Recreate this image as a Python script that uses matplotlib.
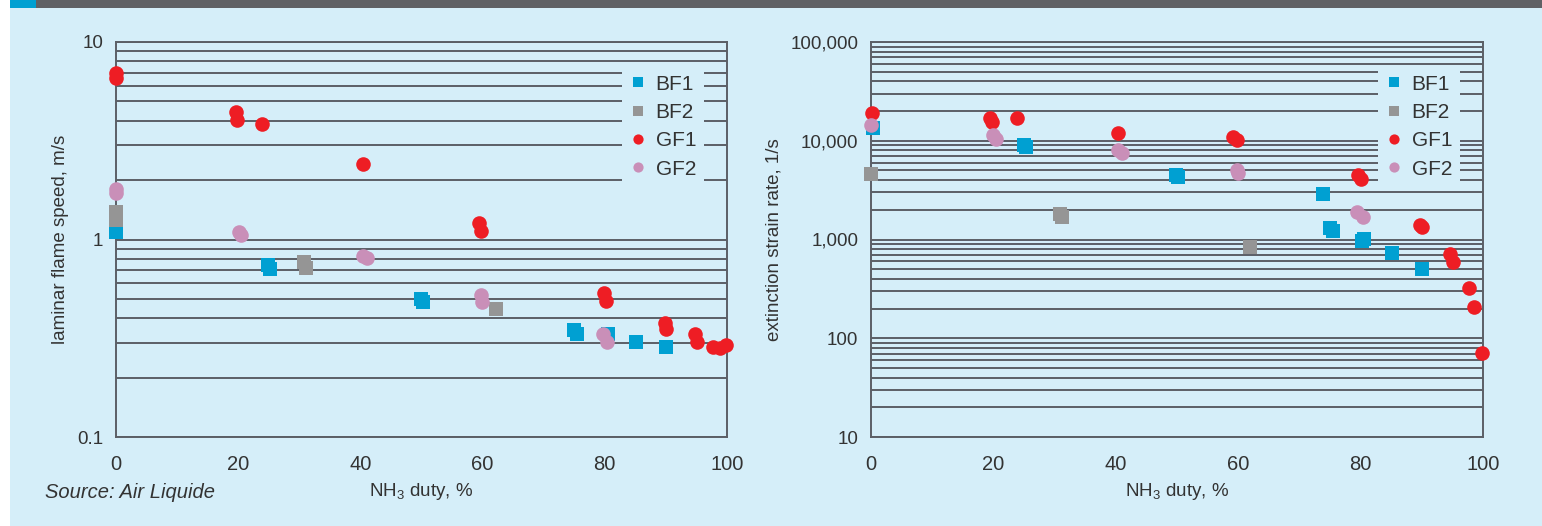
import matplotlib
matplotlib.use('Agg')
import matplotlib.pyplot as plt
from matplotlib.patches import Rectangle

# цвета как на картинке
BG = '#D5EEF9'
GRID = '#5b5f66'
TXT = '#333333'
COLORS = {'BF1': '#00A0D2', 'BF2': '#959595', 'GF1': '#EE1D24', 'GF2': '#C98FB8'}
MARKERS = {'BF1': 's', 'BF2': 's', 'GF1': 'o', 'GF2': 'o'}

NARROW = ['Liberation Sans Narrow', 'Liberation Sans', 'DejaVu Sans']
NORMAL = ['Liberation Sans', 'DejaVu Sans']

plt.rcParams['mathtext.fontset'] = 'custom'
plt.rcParams['mathtext.rm'] = 'Liberation Sans'
plt.rcParams['mathtext.it'] = 'Liberation Sans:italic'

# --- ламинарная скорость пламени, m/s ---
speed_bf1_x = [0, 24.9, 25.2, 49.9, 50.2, 75.0, 75.4, 80.5, 85.1, 90.0]
speed_bf1_y = [1.09, 0.74, 0.71, 0.50, 0.48, 0.348, 0.332, 0.332, 0.303, 0.286]
speed_bf2_x = [0, 0, 30.8, 31.1, 62.2]
speed_bf2_y = [1.38, 1.25, 0.77, 0.72, 0.445]
speed_gf1_x = [0, 0, 19.6, 19.8, 23.9, 40.4, 59.4, 59.7, 79.9, 80.2, 89.9, 90.0,
               94.8, 95.1, 97.7, 98.9, 99.8]
speed_gf1_y = [7.0, 6.6, 4.42, 4.03, 3.84, 2.41, 1.21, 1.10, 0.536, 0.489, 0.378, 0.352,
               0.332, 0.303, 0.286, 0.283, 0.292]
speed_gf2_x = [0, 0, 20.1, 20.4, 40.4, 41.0, 59.7, 59.9, 79.7, 80.4]
speed_gf2_y = [1.80, 1.72, 1.09, 1.05, 0.825, 0.81, 0.524, 0.483, 0.332, 0.303]

# --- скорость деформации при погасании, 1/s ---
strain_bf1_x = [0.3, 25.0, 25.3, 49.8, 50.1, 73.9, 75.0, 75.5, 80.2, 80.6, 85.1, 90.0]
strain_bf1_y = [13500, 9100, 8700, 4500, 4300, 2890, 1300, 1220, 966, 1010, 730, 502]
strain_bf2_x = [0, 30.9, 31.2, 62.0]
strain_bf2_y = [4600, 1810, 1700, 840]
strain_gf1_x = [0.2, 19.4, 19.8, 23.9, 40.4, 59.2, 59.8, 79.6, 80.1, 89.7, 90.0,
                94.6, 95.1, 97.7, 98.5, 99.8]
strain_gf1_y = [19100, 17000, 15500, 17000, 12000, 10900, 10200, 4500, 4100, 1400, 1340,
                713, 592, 323, 207, 71]
strain_gf2_x = [0, 20.0, 20.5, 40.4, 41.0, 59.8, 60.0, 79.4, 80.4]
strain_gf2_y = [14400, 11500, 10500, 8060, 7500, 5060, 4700, 1900, 1690]

x_ticks = [0, 20, 40, 60, 80, 100]
left_yticks = [0.1, 1, 10]
left_ylabels = ['0.1', '1', '10']
right_yticks = [10, 100, 1000, 10000, 100000]
right_ylabels = ['10', '100', '1,000', '10,000', '100,000']

fig = plt.figure(figsize=(15.42, 5.26), dpi=100, facecolor='white')
W, H = 1542, 526

# фон и верхняя полоса
fig.patches.append(Rectangle((10 / W, 0), 1 - 10 / W, 1, transform=fig.transFigure,
                             facecolor=BG, edgecolor='none', zorder=-10))
fig.patches.append(Rectangle((10 / W, 1 - 8 / H), 1 - 10 / W, 8 / H, transform=fig.transFigure,
                             facecolor='#606165', edgecolor='none', zorder=-9))
fig.patches.append(Rectangle((10 / W, 1 - 8 / H), 26 / W, 8 / H, transform=fig.transFigure,
                             facecolor='#00A0D2', edgecolor='none', zorder=-8))


def setup_axes(ax, ylim, yticks, ylabels, ylabel):
    ax.set_facecolor('none')
    ax.set_yscale('log')
    ax.set_xlim(0, 100)
    ax.set_ylim(*ylim)
    ax.set_xticks(x_ticks)
    ax.set_xticklabels([str(t) for t in x_ticks], family=NARROW, fontsize=14.5, color=TXT)
    ax.set_yticks(yticks)
    ax.set_yticklabels(ylabels, family=NORMAL, fontsize=13.5, color=TXT)
    ax.yaxis.set_minor_formatter(plt.NullFormatter())
    ax.tick_params(axis='both', which='both', length=0)
    ax.tick_params(axis='x', pad=13)
    ax.tick_params(axis='y', pad=9)
    ax.grid(True, axis='y', which='both', color=GRID, lw=1.4)
    ax.set_axisbelow(True)
    for s in ax.spines.values():
        s.set_color(GRID)
        s.set_linewidth(1.4)
    ax.set_ylabel(ylabel, family=NORMAL, fontsize=13.5, color=TXT, labelpad=6)
    ax.set_xlabel('NH$_3$ duty, %', family=NARROW, fontsize=13.5, color=TXT, labelpad=5)


def draw_series(ax, series):
    for name, xs, ys in series:
        ax.plot(xs, ys, ls='none', marker=MARKERS[name], color=COLORS[name],
                ms=10.5, mew=0, clip_on=False, zorder=3, label=name)
    leg = ax.legend(loc='upper right', bbox_to_anchor=(0.98, 0.965), frameon=True,
                    facecolor=BG, edgecolor='none', framealpha=1, fancybox=False,
                    prop={'family': NARROW, 'size': 15}, markerscale=0.7,
                    handlelength=0.7, handletextpad=0.5, labelspacing=0.45,
                    borderpad=0.4)
    for t in leg.get_texts():
        t.set_color(TXT)
    leg.set_zorder(5)


ax1 = fig.add_axes([116 / W, 1 - 437 / H, 611 / W, 395 / H])
setup_axes(ax1, (0.1, 10), left_yticks, left_ylabels, 'laminar flame speed, m/s')
draw_series(ax1, [('BF1', speed_bf1_x, speed_bf1_y),
                  ('BF2', speed_bf2_x, speed_bf2_y),
                  ('GF1', speed_gf1_x, speed_gf1_y),
                  ('GF2', speed_gf2_x, speed_gf2_y)])

ax2 = fig.add_axes([871 / W, 1 - 437 / H, 612 / W, 395 / H])
setup_axes(ax2, (10, 100000), right_yticks, right_ylabels, 'extinction strain rate, 1/s')
draw_series(ax2, [('BF1', strain_bf1_x, strain_bf1_y),
                  ('BF2', strain_bf2_x, strain_bf2_y),
                  ('GF1', strain_gf1_x, strain_gf1_y),
                  ('GF2', strain_gf2_x, strain_gf2_y)])

fig.text(45 / W, 1 - 493 / H, 'Source: Air Liquide', family=NARROW, style='italic',
         fontsize=14.5, color=TXT, va='center', ha='left')

fig.savefig('out.png', dpi=100, facecolor=fig.get_facecolor())
